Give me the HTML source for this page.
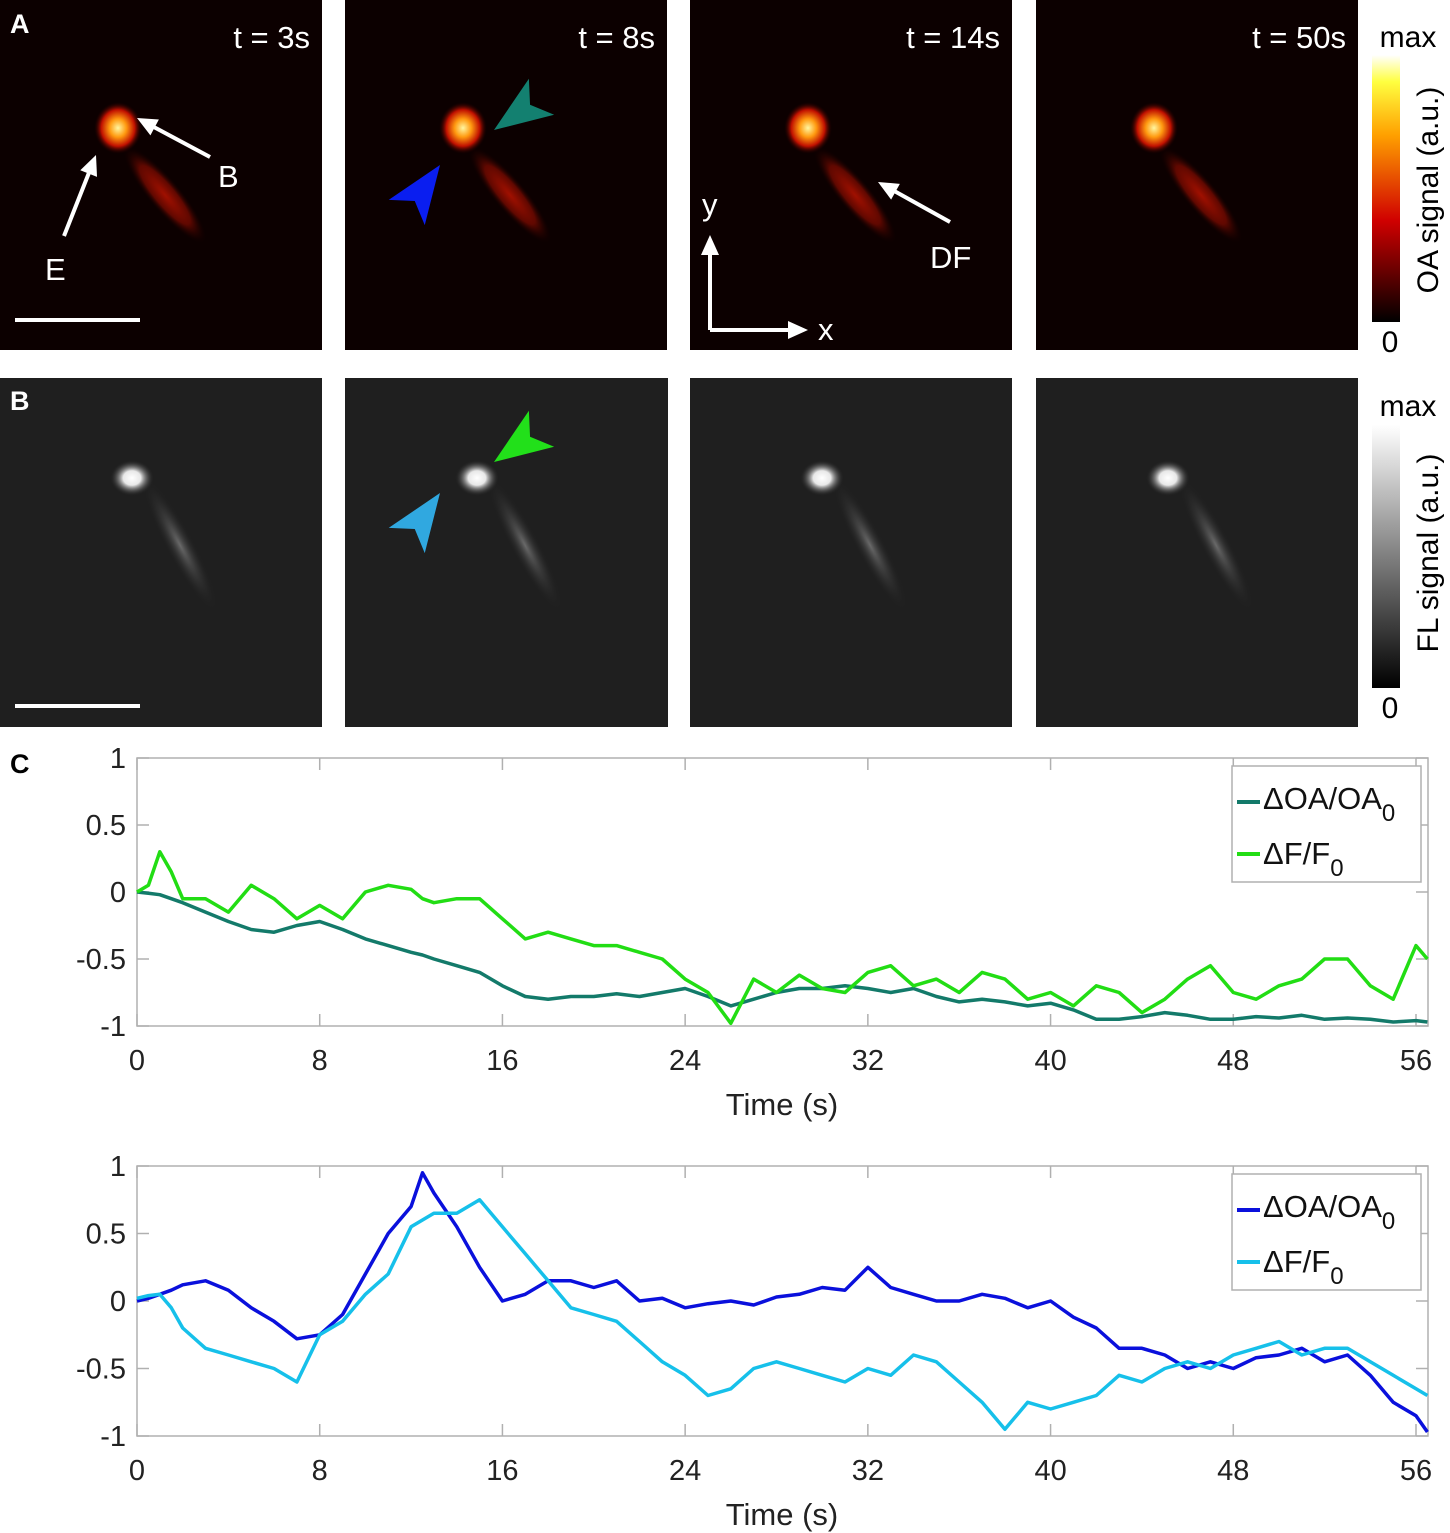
<!DOCTYPE html>
<html><head><meta charset="utf-8"><style>
body{margin:0;background:#fff}
svg{display:block;font-family:"Liberation Sans",sans-serif}
</style></head><body>
<svg id="fig" width="1450" height="1533" viewBox="0 0 1450 1533">
<defs>
<radialGradient id="hotHead"><stop offset="0" stop-color="#fff6a0"/><stop offset="0.35" stop-color="#ff9a10"/><stop offset="0.7" stop-color="#c01000"/><stop offset="1" stop-color="#200000" stop-opacity="0"/></radialGradient>
<radialGradient id="hotBody"><stop offset="0" stop-color="#a01000"/><stop offset="0.6" stop-color="#600800"/><stop offset="1" stop-color="#100000" stop-opacity="0"/></radialGradient>
<radialGradient id="flHead"><stop offset="0" stop-color="#ffffff"/><stop offset="0.4" stop-color="#e8e8e8"/><stop offset="1" stop-color="#202020" stop-opacity="0"/></radialGradient>
<radialGradient id="flBody"><stop offset="0" stop-color="#6a6a6a"/><stop offset="1" stop-color="#202020" stop-opacity="0"/></radialGradient>
<linearGradient id="hotBar" x1="0" y1="1" x2="0" y2="0"><stop offset="0" stop-color="#000"/><stop offset="0.38" stop-color="#d00000"/><stop offset="0.7" stop-color="#ffa000"/><stop offset="0.9" stop-color="#ffff40"/><stop offset="1" stop-color="#fff"/></linearGradient>
<linearGradient id="grayBar" x1="0" y1="1" x2="0" y2="0"><stop offset="0" stop-color="#000"/><stop offset="1" stop-color="#fff"/></linearGradient>
</defs>
<g id="panels"></g>
<g id="charts"></g>
</svg>
<script>
const NS='http://www.w3.org/2000/svg';
const svg=document.getElementById('fig');
function mk(tag,attrs,parent,text){const e=document.createElementNS(NS,tag);for(const k in attrs)e.setAttribute(k,attrs[k]);if(text!==undefined)e.textContent=text;(parent||svg).appendChild(e);return e;}

// ---------- image panels ----------
const timeLabels=['t = 3s','t = 8s','t = 14s','t = 50s'];
const panelX=[0,345,690,1036];
const P=document.getElementById('panels');
panelX.forEach((px,i)=>{
  const gA=mk('g',{},P);
  
  
  mk('rect',{x:px,y:0,width:322,height:350,fill:'#0c0000'},gA);
  mk('ellipse',{cx:px+165,cy:195,rx:62,ry:16,fill:'url(#hotBody)',transform:`rotate(50 ${px+165} ${195})`},gA);
  mk('ellipse',{cx:px+118,cy:128,rx:24,ry:26,fill:'url(#hotHead)'},gA);
  const t=mk('text',{x:px+310,y:48,'text-anchor':'end','font-size':31,fill:'#fff'},gA,timeLabels[i]);
  
  
  const gB=mk('g',{},P);
  
  
  mk('rect',{x:px,y:378,width:(i==1?323:322),height:349,fill:'#1f1f1f'},gB);
  mk('ellipse',{cx:px+180,cy:545,rx:75,ry:14,fill:'url(#flBody)',transform:`rotate(62 ${px+180} 545)`},gB);
  mk('ellipse',{cx:px+132,cy:478,rx:22,ry:18,fill:'url(#flHead)'},gB);
});
// labels A B
mk('text',{x:10,y:33,'font-size':27,'font-weight':'bold',fill:'#fff',},P,'A');
mk('text',{x:10,y:410,'font-size':27,'font-weight':'bold',fill:'#fff',},P,'B');
mk('text',{x:10,y:773,'font-size':27,'font-weight':'bold',fill:'#000',},P,'C');
// scale bars
mk('line',{x1:15,y1:320,x2:140,y2:320,stroke:'#fff','stroke-width':4,},P);
mk('line',{x1:15,y1:706,x2:140,y2:706,stroke:'#fff','stroke-width':4,},P);
// annotation arrows
function arrow(x1,y1,x2,y2,name){const g=mk('g',{},P);
 const a=Math.atan2(y2-y1,x2-x1);mk('line',{x1,y1,x2:x2-14*Math.cos(a),y2:y2-14*Math.sin(a),stroke:'#fff','stroke-width':4},g);
 const h=20,w=9;const bx=x2-h*Math.cos(a),by=y2-h*Math.sin(a);
 mk('polygon',{points:`${x2},${y2} ${bx-w*Math.sin(a)},${by+w*Math.cos(a)} ${bx+w*Math.sin(a)},${by-w*Math.cos(a)}`,fill:'#fff'},g);}
arrow(210,157,137,118,'arrow-b');
arrow(64,236,96,155,'arrow-e');
arrow(950,222,878,182,'arrow-df');
mk('text',{x:218,y:187,'font-size':31,fill:'#fff'},P,'B');
mk('text',{x:45,y:280,'font-size':31,fill:'#fff'},P,'E');
mk('text',{x:930,y:268,'font-size':31,fill:'#fff'},P,'DF');
// axes glyph
arrow(710,330,710,235,'y-direction-arrow');
arrow(710,330,808,330,'x-direction-arrow');
mk('text',{x:702,y:215,'font-size':31,fill:'#fff'},P,'y');
mk('text',{x:818,y:340,'font-size':31,fill:'#fff'},P,'x');
// arrowheads (chevrons)
function chev(tx,ty,ang,col,name){const g=mk('polygon',{points:'0,0 58,-22 44,0 58,22',fill:col,transform:`translate(${tx} ${ty}) rotate(${ang})`},P);}
chev(494,130,-35,'#138070','arrowhead-teal');
chev(440,165,125,'#0a1ef0','arrowhead-blue');
chev(494,462,-35,'#22e01a','arrowhead-green');
chev(440,493,125,'#30a8e0','arrowhead-lightblue');
// colorbars
mk('rect',{x:1372,y:55,width:28,height:267,fill:'url(#hotBar)',},P);
mk('rect',{x:1372,y:425,width:28,height:263,fill:'url(#grayBar)',},P);
mk('text',{x:1408,y:47,'font-size':30,'text-anchor':'middle',fill:'#000'},P,'max');
mk('text',{x:1390,y:352,'font-size':30,'text-anchor':'middle',fill:'#000'},P,'0');
mk('text',{x:1408,y:416,'font-size':30,'text-anchor':'middle',fill:'#000'},P,'max');
mk('text',{x:1390,y:718,'font-size':30,'text-anchor':'middle',fill:'#000'},P,'0');
mk('text',{x:0,y:0,'font-size':30,'text-anchor':'middle',fill:'#000',transform:'translate(1438 190) rotate(-90)',},P,'OA signal (a.u.)');
mk('text',{x:0,y:0,'font-size':30,'text-anchor':'middle',fill:'#000',transform:'translate(1438 553) rotate(-90)',},P,'FL signal (a.u.)');

// ---------- chart data ----------
const xTicks=[0,8,16,24,32,40,48,56];
const yTicks=[1,0.5,0,-0.5,-1];
const yTickLabels=['1','0.5','0','-0.5','-1'];
const time=[0,0.5,1,1.5,2,3,4,5,6,7,8,9,10,11,12,12.5,13,14,15,16,17,18,19,20,21,22,23,24,25,26,27,28,29,30,31,32,33,34,35,36,37,38,39,40,41,42,43,44,45,46,47,48,49,50,51,52,53,54,55,56,56.5];
const oaTeal=[0,-0.01,-0.02,-0.05,-0.08,-0.15,-0.22,-0.28,-0.3,-0.25,-0.22,-0.28,-0.35,-0.4,-0.45,-0.47,-0.5,-0.55,-0.6,-0.7,-0.78,-0.8,-0.78,-0.78,-0.76,-0.78,-0.75,-0.72,-0.78,-0.85,-0.8,-0.75,-0.72,-0.72,-0.7,-0.72,-0.75,-0.72,-0.78,-0.82,-0.8,-0.82,-0.85,-0.83,-0.88,-0.95,-0.95,-0.93,-0.9,-0.92,-0.95,-0.95,-0.93,-0.94,-0.92,-0.95,-0.94,-0.95,-0.97,-0.96,-0.97];
const fGreen=[0,0.05,0.3,0.15,-0.05,-0.05,-0.15,0.05,-0.05,-0.2,-0.1,-0.2,0.0,0.05,0.02,-0.05,-0.08,-0.05,-0.05,-0.2,-0.35,-0.3,-0.35,-0.4,-0.4,-0.45,-0.5,-0.65,-0.75,-0.98,-0.65,-0.75,-0.62,-0.72,-0.75,-0.6,-0.55,-0.7,-0.65,-0.75,-0.6,-0.65,-0.8,-0.75,-0.85,-0.7,-0.75,-0.9,-0.8,-0.65,-0.55,-0.75,-0.8,-0.7,-0.65,-0.5,-0.5,-0.7,-0.8,-0.4,-0.5];
const oaBlue=[0,0.02,0.05,0.08,0.12,0.15,0.08,-0.05,-0.15,-0.28,-0.25,-0.1,0.2,0.5,0.7,0.95,0.8,0.55,0.25,0.0,0.05,0.15,0.15,0.1,0.15,0.0,0.02,-0.05,-0.02,0.0,-0.03,0.03,0.05,0.1,0.08,0.25,0.1,0.05,0.0,0.0,0.05,0.02,-0.05,0.0,-0.12,-0.2,-0.35,-0.35,-0.4,-0.5,-0.45,-0.5,-0.42,-0.4,-0.35,-0.45,-0.4,-0.55,-0.75,-0.85,-0.97];
const fCyan=[0.02,0.04,0.05,-0.05,-0.2,-0.35,-0.4,-0.45,-0.5,-0.6,-0.25,-0.15,0.05,0.2,0.55,0.6,0.65,0.65,0.75,0.55,0.35,0.15,-0.05,-0.1,-0.15,-0.3,-0.45,-0.55,-0.7,-0.65,-0.5,-0.45,-0.5,-0.55,-0.6,-0.5,-0.55,-0.4,-0.45,-0.6,-0.75,-0.95,-0.75,-0.8,-0.75,-0.7,-0.55,-0.6,-0.5,-0.45,-0.5,-0.4,-0.35,-0.3,-0.4,-0.35,-0.35,-0.45,-0.55,-0.65,-0.7];

const C=document.getElementById('charts');
function chart(top,bottom,s1,c1,s2,c2,idx){
  const L=137,R=1428;
  const xs=t=>L+t*(1416-L)/56;
  const ys=v=>bottom-(v+1)*(bottom-top)/2;
  const g=mk('g',{},C);
  
  
  const box=mk('rect',{x:L,y:top,width:R-L,height:bottom-top,fill:'none',stroke:'#b0b0b0','stroke-width':1.5},g);
  
  
  xTicks.forEach(t=>{
    mk('line',{x1:xs(t),y1:bottom,x2:xs(t),y2:bottom-12,stroke:'#b0b0b0','stroke-width':1.5},g);
    mk('line',{x1:xs(t),y1:top,x2:xs(t),y2:top+12,stroke:'#b0b0b0','stroke-width':1.5},g);
    const tl=mk('text',{x:xs(t),y:bottom+44,'text-anchor':'middle','font-size':29,fill:'#222'},g,String(t));
    
    
  });
  yTicks.forEach((v,i)=>{
    mk('line',{x1:L,y1:ys(v),x2:L+12,y2:ys(v),stroke:'#b0b0b0','stroke-width':1.5},g);
    mk('line',{x1:R,y1:ys(v),x2:R-12,y2:ys(v),stroke:'#b0b0b0','stroke-width':1.5},g);
    const tl=mk('text',{x:126,y:ys(v)+10,'text-anchor':'end','font-size':29,fill:'#222'},g,yTickLabels[i]);
    
    
  });
  const xt=mk('text',{x:782,y:bottom+89,'text-anchor':'middle','font-size':31,fill:'#222'},g,'Time (s)');
  
  
  [[s1,c1,'oa-line'],[s2,c2,'f-line']].forEach(([s,c,n])=>{
    const d=s.map((v,i)=>(i?'L':'M')+xs(time[i]).toFixed(1)+' '+ys(v).toFixed(1)).join(' ');
    const p=mk('path',{d,fill:'none',stroke:c,'stroke-width':3.5,'stroke-linejoin':'round'},g);
    
    
  });
  const lg=mk('g',{},g);
  
  
  mk('rect',{x:1232,y:top+8,width:189,height:116,fill:'#fff',stroke:'#b0b0b0','stroke-width':1.5},lg);
  mk('line',{x1:1237,y1:top+44,x2:1260,y2:top+44,stroke:c1,'stroke-width':4},lg);
  mk('line',{x1:1237,y1:top+96,x2:1260,y2:top+96,stroke:c2,'stroke-width':4},lg);
  const t1=mk('text',{x:1263,y:top+51,'font-size':31,fill:'#111'},lg);
  t1.innerHTML='ΔOA/OA<tspan font-size="24" dy="12">0</tspan>';
  const t2=mk('text',{x:1263,y:top+106,'font-size':31,fill:'#111'},lg);
  t2.innerHTML='ΔF/F<tspan font-size="24" dy="12">0</tspan>';
}
chart(758,1026,oaTeal,'#137a6a',fGreen,'#22dd14',1);
chart(1166,1436,oaBlue,'#0a10dc',fCyan,'#16c0ea',2);
</script>
</body></html>
